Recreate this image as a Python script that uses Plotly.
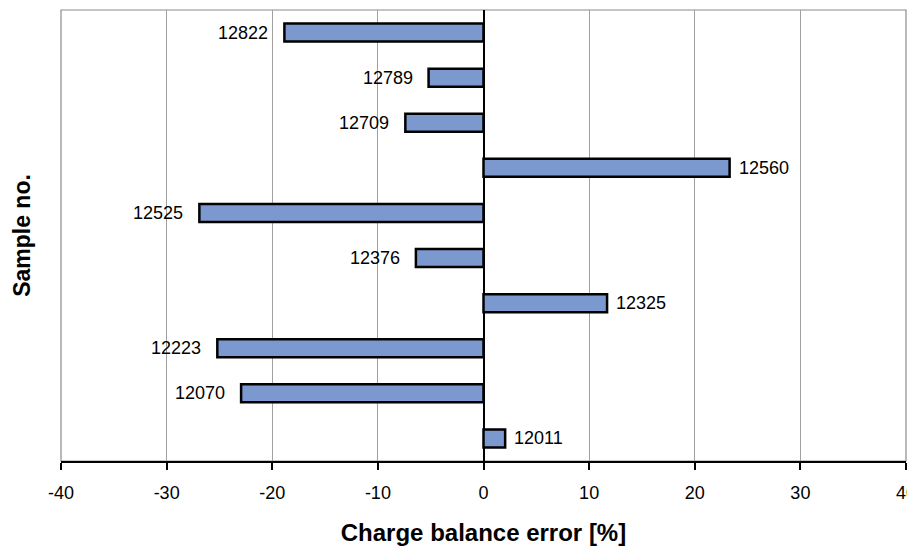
import plotly.graph_objects as go

samples = ["12011", "12070", "12223", "12325", "12376", "12525", "12560", "12709", "12789", "12822"]
errors = [2.05, -22.95, -25.2, 11.7, -6.4, -26.9, 23.3, -7.4, -5.2, -18.85]
x_ticks = [-40, -30, -20, -10, 0, 10, 20, 30, 40]

FONT = "Arial, Liberation Sans, sans-serif"

fig = go.Figure(go.Bar(
    x=errors, y=samples, orientation="h", width=0.4,
    marker=dict(color="#7B98CF", line=dict(color="black", width=2.5)),
    hoverinfo="skip",
))

for i, (s, v) in enumerate(zip(samples, errors)):
    fig.add_annotation(
        x=v, y=i, xref="x", yref="y", text=s, showarrow=False,
        xanchor="left" if v >= 0 else "right",
        xshift=7 if v >= 0 else -14,
        font=dict(family=FONT, size=18, color="black"),
    )

fig.update_layout(
    width=907, height=538,
    margin=dict(l=53, r=9, t=2, b=85),
    plot_bgcolor="white", paper_bgcolor="white",
    showlegend=False,
    font=dict(family=FONT, size=18, color="black"),
    xaxis=dict(
        range=[-40, 40], tickvals=x_ticks, ticktext=[str(t) for t in x_ticks],
        showgrid=True, gridcolor="#A0A0A0", gridwidth=1,
        zeroline=True, zerolinecolor="black", zerolinewidth=1.5,
        showline=True, linecolor="black", linewidth=1.5,
        ticks="outside", ticklen=7, tickcolor="black", tickwidth=1.5,
        ticklabelstandoff=8, ticklabeloverflow="allow",
        automargin=False,
        title=dict(text="<b>Charge balance error [%]</b>", font=dict(size=24), standoff=24),
    ),
    yaxis=dict(
        type="category", categoryorder="array", categoryarray=samples,
        range=[-0.5, 9.5], showticklabels=False, ticks="",
        showgrid=False, zeroline=False,
        showline=False, automargin=False,
        title=dict(text="<b>Sample no.</b>", font=dict(size=23), standoff=22),
    ),
    shapes=[
        dict(type="rect", xref="paper", yref="paper", x0=0, x1=1, y0=0, y1=1,
             line=dict(color="#8C8C8C", width=1.2), layer="below"),
    ],
)

fig.write_html("out.html")
